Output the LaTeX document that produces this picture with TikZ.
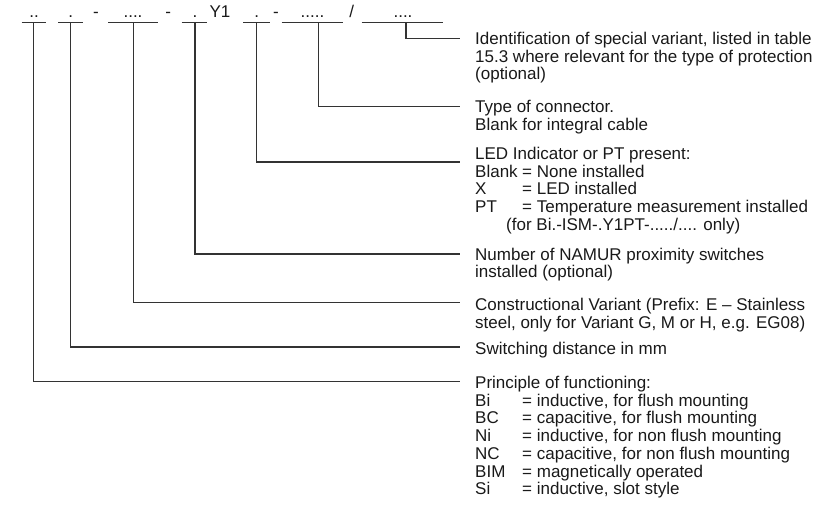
\documentclass[tikz,border=0pt]{standalone}
\usepackage{fontspec}
\setmainfont{Liberation Sans}
\begin{document}
\begin{tikzpicture}[x=1pt,y=-1pt,
  lbl/.style={anchor=base west, inner sep=0pt, font=\fontsize{17}{17.7}\selectfont, text=black!90},
  code/.style={anchor=base, inner sep=0pt, font=\fontsize{17}{17.7}\selectfont, text=black!90},
  ln/.style={line width=1.1pt, draw=black!80}]
\useasboundingbox (0,0) rectangle (814,508);
% code row
\node[code] (c1) at (34,17.3) {..};
\node[code] (c2) at (70.7,17.3) {.};
\node[code] (d1) at (96,17.3) {-};
\node[code] (c3) at (133,17.3) {....};
\node[code] (d2) at (168.3,17.3) {-};
\node[code] (c4) at (195,17.3) {.};
\node[code] (y1) at (220,17.3) {Y1};
\node[code] (c5) at (256.7,17.3) {.};
\node[code] (d3) at (276,17.3) {-};
\node[code] (c6) at (312.5,17.3) {.....};
\node[code] (sl) at (351.7,17.3) {/};
\node[code] (c7) at (403,17.3) {....};
% underlines
\draw[ln] (21.7,22.7) -- (46,22.7);
\draw[ln] (58.3,22.7) -- (83.3,22.7);
\draw[ln] (108.3,22.7) -- (158.3,22.7);
\draw[ln] (181.7,22.7) -- (206.7,22.7);
\draw[ln] (243.3,22.7) -- (270,22.7);
\draw[ln] (281.7,22.7) -- (343.3,22.7);
\draw[ln] (361.7,22.7) -- (443.3,22.7);
% connector points
\coordinate (v1) at (33.3,22.7);
\coordinate (v2) at (70.7,22.7);
\coordinate (v3) at (133.3,22.7);
\coordinate (v4) at (195,22.7);
\coordinate (v5) at (256.7,22.7);
\coordinate (v6) at (318.3,22.7);
\coordinate (v7) at (406,22.7);
\coordinate (e1) at (460,381.7);
\coordinate (e2) at (460,347);
\coordinate (e3) at (460,302.7);
\coordinate (e4) at (460,254);
\coordinate (e5) at (460,162);
\coordinate (e6) at (460,106.7);
\coordinate (e7) at (460,38.3);
\draw[ln] (v1) |- (e1);
\draw[ln] (v2) |- (e2);
\draw[ln] (v3) |- (e3);
\draw[ln] (v4) |- (e4);
\draw[ln] (v5) |- (e5);
\draw[ln] (v6) |- (e6);
\draw[ln] (v7) |- (e7);
% labels
\node[lbl] (l7) at (475,44.5) {\begin{tabular}[t]{@{}l@{}}Identification of special variant, listed in table\\15.3 where relevant for the type of protection\\(optional)\end{tabular}};
\node[lbl] (l6) at (475,112.7) {\begin{tabular}[t]{@{}l@{}}Type of connector.\\Blank for integral cable\end{tabular}};
\node[lbl] (l5) at (475,159.5) {\begin{tabular}[t]{@{}l@{}}LED Indicator or PT present:\\\makebox[47pt][l]{Blank}= None installed\\\makebox[47pt][l]{X}= LED installed\\\makebox[47pt][l]{PT}= Temperature measurement installed\\\hspace*{31pt}(for Bi.-ISM-.Y1PT-...../.... only)\end{tabular}};
\node[lbl] (l4) at (475,260) {\begin{tabular}[t]{@{}l@{}}Number of NAMUR proximity switches\\installed (optional)\end{tabular}};
\node[lbl] (l3) at (475,310.6) {\begin{tabular}[t]{@{}l@{}}Constructional Variant (Prefix: E -- Stainless\\steel, only for Variant G, M or H, e.g. EG08)\end{tabular}};
\node[lbl] (l2) at (475,354) {Switching distance in mm};
\node[lbl] (l1) at (475,388.5) {\begin{tabular}[t]{@{}l@{}}Principle of functioning:\\\makebox[47pt][l]{Bi}= inductive, for flush mounting\\\makebox[47pt][l]{BC}= capacitive, for flush mounting\\\makebox[47pt][l]{Ni}= inductive, for non flush mounting\\\makebox[47pt][l]{NC}= capacitive, for non flush mounting\\\makebox[47pt][l]{BIM}= magnetically operated\\\makebox[47pt][l]{Si}= inductive, slot style\end{tabular}};
\end{tikzpicture}
\end{document}
